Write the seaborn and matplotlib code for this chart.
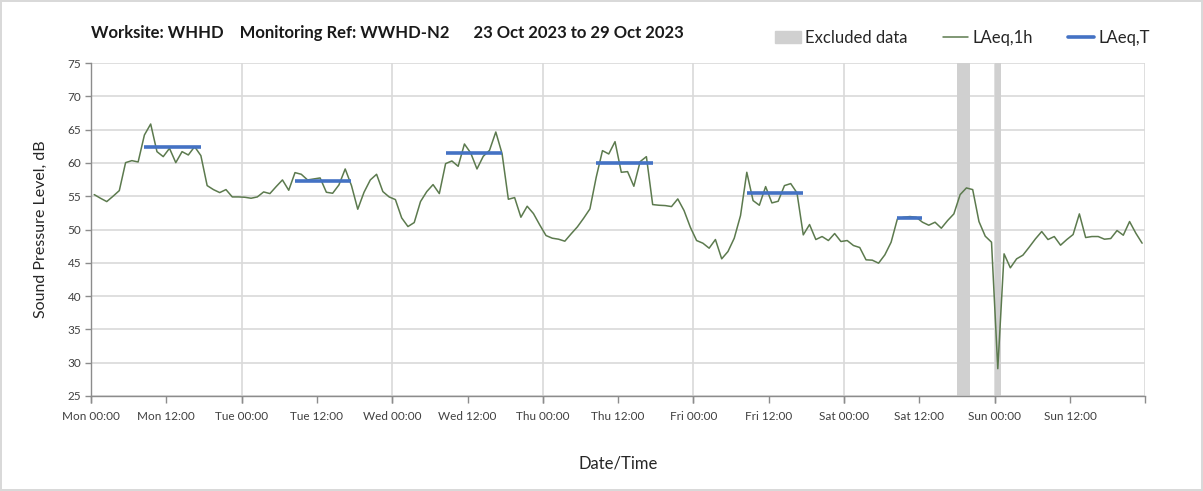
import matplotlib
matplotlib.use("Agg")
import matplotlib.pyplot as plt
import matplotlib.dates as mdates
import seaborn as sns
import pandas as pd
import numpy as np

# hourly LAeq,1h values (dB), one list per day, plotted at the middle of each hour
mon = [55.25, 54.7, 54.2, 55.0, 55.85, 60.05, 60.35, 60.15, 64.2, 65.85, 61.7, 60.95,
       62.2, 60.05, 61.7, 61.2, 62.45, 61.1, 56.6, 56.0, 55.55, 56.0, 54.9, 54.9]
tue = [54.85, 54.7, 54.9, 55.65, 55.4, 56.45, 57.45, 55.9, 58.55, 58.3, 57.45, 57.6,
       57.75, 55.6, 55.45, 56.7, 59.1, 56.6, 53.05, 55.6, 57.45, 58.3, 55.7, 54.9]
wed = [54.5, 51.75, 50.45, 51.05, 54.2, 55.7, 56.75, 55.4, 59.9, 60.3, 59.5, 62.85,
       61.5, 59.1, 61.0, 61.9, 64.65, 61.4, 54.55, 54.8, 51.85, 53.5, 52.4, 50.7]
thu = [49.1, 48.7, 48.55, 48.25, 49.35, 50.4, 51.7, 53.1, 57.85, 61.85, 61.35, 63.2,
       58.6, 58.7, 56.5, 60.2, 60.95, 53.75, 53.65, 53.6, 53.45, 54.6, 52.85, 50.35]
fri = [48.35, 47.95, 47.2, 48.5, 45.6, 46.7, 48.7, 52.1, 58.6, 54.35, 53.65, 56.45,
       54.0, 54.25, 56.6, 56.9, 55.5, 49.2, 50.75, 48.5, 48.95, 48.35, 49.4, 48.2]
sat = [48.35, 47.6, 47.3, 45.45, 45.4, 44.95, 46.2, 48.1, 51.6, 51.85, 51.95, 51.85,
       51.1, 50.65, 51.1, 50.2, 51.35, 52.35, 55.25, 56.25, 56.0, 51.2, 49.0, 48.1]
sun = [29.1, 46.35, 44.25, 45.6, 46.15, 47.35, 48.6, 49.7, 48.5, 48.95, 47.65, 48.5,
       49.25, 52.35, 48.8, 48.95, 48.95, 48.55, 48.65, 49.85, 49.15, 51.2, 49.45, 47.95]

# LAeq,T over each daytime assessment period
period_start = ["2023-10-23 08:00", "2023-10-24 08:00", "2023-10-25 08:00",
                "2023-10-26 08:00", "2023-10-27 08:00", "2023-10-28 08:00"]
period_end = ["2023-10-23 18:00", "2023-10-24 18:00", "2023-10-25 18:00",
              "2023-10-26 18:00", "2023-10-27 18:00", "2023-10-28 13:00"]
period_laeq = [62.4, 57.35, 61.55, 60.05, 55.55, 51.7]

# excluded data windows
excl_start = ["2023-10-28 18:00", "2023-10-29 00:00"]
excl_end = ["2023-10-28 20:00", "2023-10-29 01:00"]

laeq = mon + tue + wed + thu + fri + sat + sun
times = pd.date_range("2023-10-23 00:30", periods=len(laeq), freq="h")
df = pd.DataFrame({"time": times, "LAeq": laeq})

sns.set_style("white")
plt.rcParams["font.family"] = ["Lato", "DejaVu Sans"]

fig = plt.figure(figsize=(12.03, 4.91), dpi=100)
fig.patch.set_edgecolor("#d9d9d9")
fig.patch.set_linewidth(1.5)
ax = fig.add_axes([0.0757, 0.1935, 0.8763, 0.678])

for s, e in zip(excl_start, excl_end):
    ax.axvspan(pd.Timestamp(s), pd.Timestamp(e), color="#d0d0d0", lw=0, zorder=1)

sns.lineplot(data=df, x="time", y="LAeq", ax=ax, color="#5c7a4e", lw=1.1, zorder=3)

for s, e, v in zip(period_start, period_end, period_laeq):
    sub = df[(df["time"] >= pd.Timestamp(s)) & (df["time"] < pd.Timestamp(e))]
    ax.plot([sub["time"].iloc[0], sub["time"].iloc[-1]], [v, v],
            color="#4472c4", lw=2.6, solid_capstyle="butt", zorder=4)

t0 = pd.Timestamp("2023-10-23 00:00")
t1 = pd.Timestamp("2023-10-30 00:00")
ax.set_xlim(t0, t1)
ax.set_ylim(25, 75)
ax.set_yticks(np.arange(25, 76, 5))

# labelled ticks every 12 h, last one (end of week) left unlabelled
ax.set_xticks(pd.date_range(t0, t1 - pd.Timedelta(hours=12), freq="12h"))
ax.xaxis.set_major_formatter(mdates.DateFormatter("%a %H:%M"))
ax.xaxis.set_minor_locator(mdates.DayLocator())
ax.xaxis.remove_overlapping_locs = False

ax.grid(axis="y", color="#d9d9d9", lw=1.2)
ax.grid(axis="x", which="minor", color="#d9d9d9", lw=1.2)
ax.set_axisbelow(True)

for side in ["top", "right"]:
    ax.spines[side].set_visible(False)
for side in ["left", "bottom"]:
    ax.spines[side].set_color("#8c8c8c")
    ax.spines[side].set_linewidth(1.0)

ax.tick_params(axis="x", which="major", direction="out", length=5, width=1,
               color="#8c8c8c", labelsize=8.5, labelcolor="#404040", pad=6, bottom=True)
ax.tick_params(axis="x", which="minor", direction="out", length=5, width=1,
               color="#8c8c8c", bottom=True)
ax.tick_params(axis="y", direction="out", length=4, width=1, color="#8c8c8c",
               labelsize=8.5, labelcolor="#404040", pad=3, left=True)

ax.set_xlabel("Date/Time", fontsize=12, color="#262626", labelpad=24)
ax.set_ylabel("Sound Pressure Level, dB", fontsize=11.5, color="#262626", labelpad=14)

fig.text(0.0757, 0.932, "Worksite: WHHD    Monitoring Ref: WWHD-N2      23 Oct 2023 to 29 Oct 2023",
         fontsize=12, fontweight="bold", color="#1a1a1a", va="center", ha="left")

handles = [
    matplotlib.patches.Patch(color="#d0d0d0", label="Excluded data"),
    matplotlib.lines.Line2D([], [], color="#5c7a4e", lw=1.1, label="LAeq,1h"),
    matplotlib.lines.Line2D([], [], color="#4472c4", lw=2.6, label="LAeq,T"),
]
fig.legend(handles=handles, loc="center", bbox_to_anchor=(0.8, 0.923), ncol=3,
           frameon=False, fontsize=12, handlelength=1.55, handleheight=0.7,
           columnspacing=2.1, handletextpad=0.25)

fig.savefig("out.png", dpi=100)
